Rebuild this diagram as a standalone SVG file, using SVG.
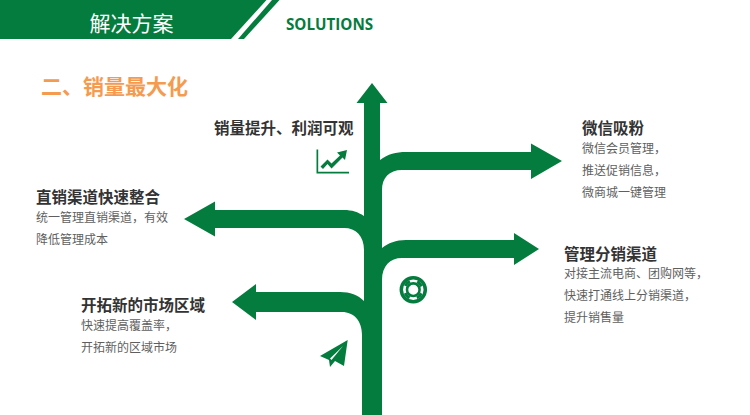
<svg xmlns="http://www.w3.org/2000/svg" width="750" height="415" viewBox="0 0 750 415">
<style>
.g{fill:#047c3e}
text{font-family:"Noto Sans CJK SC","Noto Sans",sans-serif}
.h{font-size:15.5px;font-weight:700;fill:#333}
.b{font-size:12px;fill:#5f5f5f}
</style>
<rect width="750" height="415" fill="#fff"/>
<g id="header">
<polygon class="g" points="0,0 266.5,0 231,39 0,39"/>
<polygon class="g" points="272,0 279.5,0 244,39 238,39"/>
<text x="131.500" y="31" font-size="21" fill="#fff" text-anchor="middle">解决方案</text>
<text x="286" y="30" font-size="15.200" font-weight="700" fill="#047c3e" style="font-family:'Open Sans',sans-serif">SOLUTIONS</text>
</g>
<text id="title" x="41" y="94" font-size="21" font-weight="700" fill="#f59b4f">二、销量最大化</text>
<g id="connectors">
<path class="g" d="M372 83L387.500 103H380V160C388 154 396 152 406 152H531V143.500L562 161L531 179V170H402C389 170 382 178 382 190V248C388 243 396 240 406 240H514V233L539 249L514 265V258H402C390 258 382 266 382 280V415H362V335C362 321 354 312 342 312H256V320L232 302L256 284V292H340C350 292 358 295 364 301V250C364 236 356 228 344 228H215V236.500L184 219L215 201.500V210H344C352 210 358 212 364 216V103H356.500Z"/>
</g>
<g id="node-top">
<text class="h" x="214" y="134">销量提升、利润可观</text>
<g id="icon-chart" class="g">
<path d="M316.500 149.500V173.500H349V171.800H318.200V149.500Z"/>
<path d="M320.500 166.500L327.500 159.500L331.500 163.500L340 155.500L337 152.500L347 150L345 160L342.500 157.500L331.500 168.500L327.500 164L323 169Z"/>
</g>
</g>
<g id="node-weixin">
<text class="h" x="582" y="133.500">微信吸粉</text>
<text class="b" x="582" y="153">微信会员管理，</text>
<text class="b" x="582" y="175">推送促销信息，</text>
<text class="b" x="582" y="197">微商城一键管理</text>
</g>
<g id="node-direct">
<text class="h" x="36" y="203">直销渠道快速整合</text>
<text class="b" x="36" y="222">统一管理直销渠道，有效</text>
<text class="b" x="36" y="244">降低管理成本</text>
</g>
<g id="node-dist">
<text class="h" x="564" y="259.500">管理分销渠道</text>
<text class="b" x="564" y="278">对接主流电商、团购网等，</text>
<text class="b" x="564" y="300">快速打通线上分销渠道，</text>
<text class="b" x="564" y="322">提升销售量</text>
</g>
<g id="node-new">
<text class="h" x="81" y="311">开拓新的市场区域</text>
<text class="b" x="81" y="330">快速提高覆盖率，</text>
<text class="b" x="81" y="352">开拓新的区域市场</text>
</g>
<g id="icon-ring">
<circle cx="413.300" cy="289.700" r="12" fill="none" stroke="#047c3e" stroke-width="3.500"/>
<circle cx="413.300" cy="289.700" r="6.300" fill="none" stroke="#047c3e" stroke-width="2.600"/>
<circle cx="413.300" cy="289.700" r="8.900" fill="none" stroke="#047c3e" stroke-width="3" stroke-dasharray="6.500 7.480" stroke-dashoffset="-3.740"/>
</g>
<g id="icon-plane">
<polygon class="g" points="347.700,340 344,366 335,361 330,367 329,360 320,356"/>
<polygon fill="#fff" points="343,346 330,358.500 331.500,360"/>
</g>
</svg>
